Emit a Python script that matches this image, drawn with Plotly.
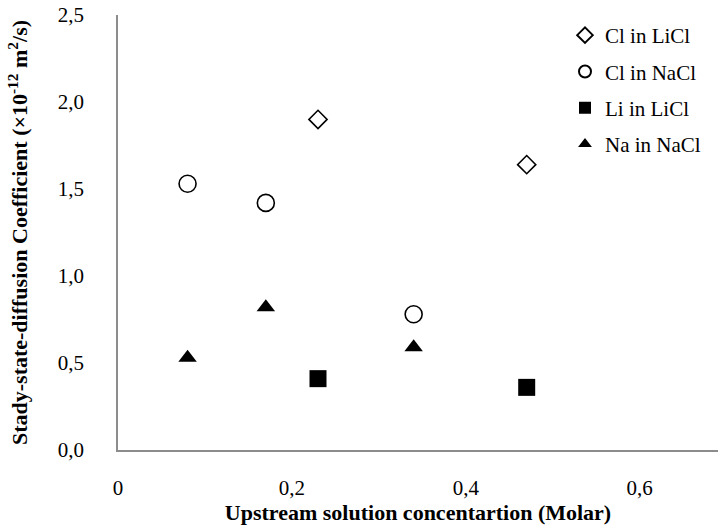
import plotly.graph_objects as go

# Data
cl_licl_x = [0.23, 0.47]
cl_licl_y = [1.90, 1.64]
cl_nacl_x = [0.08, 0.17, 0.34]
cl_nacl_y = [1.53, 1.42, 0.78]
li_licl_x = [0.23, 0.47]
li_licl_y = [0.41, 0.36]
na_nacl_x = [0.08, 0.17, 0.34]
na_nacl_y = [0.53, 0.82, 0.59]

x_ticks = [0, 0.2, 0.4, 0.6]
x_labels = ["0", "0,2", "0,4", "0,6"]
y_ticks = [0, 0.5, 1.0, 1.5, 2.0, 2.5]

FONT = "Liberation Serif, Times New Roman, serif"

fig = go.Figure()
fig.add_trace(go.Scatter(x=cl_licl_x, y=cl_licl_y, mode="markers", name="Cl in LiCl",
                         legendgroup="a",
                         marker=dict(symbol="diamond-open", size=14, color="black",
                                     line=dict(width=1.6, color="black"))))
fig.add_trace(go.Scatter(x=cl_nacl_x, y=cl_nacl_y, mode="markers", name="Cl in NaCl",
                         legendgroup="b",
                         marker=dict(symbol="circle-open", size=17, color="black",
                                     line=dict(width=1.6, color="black"))))
fig.add_trace(go.Scatter(x=li_licl_x, y=li_licl_y, mode="markers", name="Li in LiCl",
                         legendgroup="c",
                         marker=dict(symbol="square", size=17, color="black")))
fig.add_trace(go.Scatter(x=na_nacl_x, y=na_nacl_y, mode="markers", name="Na in NaCl",
                         legendgroup="d",
                         marker=dict(symbol="triangle-up", size=16, color="black")))

fig.update_layout(
    width=718, height=527,
    margin=dict(l=118, r=0, t=15, b=77, autoexpand=False),
    paper_bgcolor="white", plot_bgcolor="white",
    separators=",.",
    font=dict(family=FONT, size=21, color="black"),
    legend=dict(x=0.745, y=1.0, xanchor="left", yanchor="top",
                font=dict(family=FONT, size=21, color="black"),
                tracegroupgap=6, itemwidth=30, itemsizing="constant",
                bgcolor="rgba(0,0,0,0)"),
    xaxis=dict(range=[0, 0.69], tickvals=x_ticks, ticktext=x_labels,
               showgrid=False, zeroline=False, showline=True, linecolor="#8c8c8c",
               linewidth=1.5, ticks="", ticklabelstandoff=18,
               tickfont=dict(family=FONT, size=21, color="black"),
               title=dict(text="<b>Upstream solution concentartion (Molar)</b>",
                          font=dict(family=FONT, size=22, color="black"), standoff=2)),
    yaxis=dict(range=[0, 2.5], tickvals=y_ticks, tickformat=".1f",
               showgrid=False, zeroline=False, showline=True, linecolor="#8c8c8c",
               linewidth=1.5, ticks="", ticklabelstandoff=28,
               tickfont=dict(family=FONT, size=21, color="black"),
               title=dict(text="<b>Stady-state-diffusion Coefficient (×10<sup>-12</sup> m<sup>2</sup>/s)</b>",
                          font=dict(family=FONT, size=22, color="black"), standoff=24)),
)

fig.write_html("out.html")
